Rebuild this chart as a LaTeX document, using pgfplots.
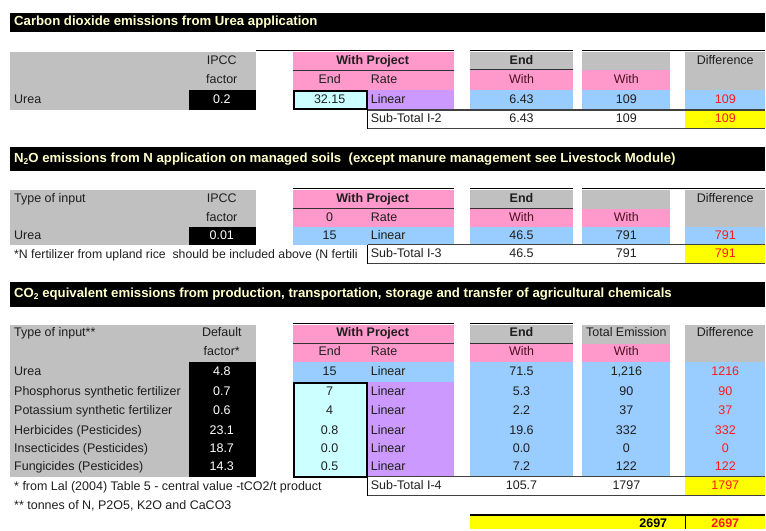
\documentclass[border=0pt]{standalone}
\usepackage{pgfplots}
\pgfplotsset{compat=1.18}
\usepackage{fontspec}
\setmainfont{Liberation Sans}
\definecolor{pinkc}{HTML}{FF99CC}
\definecolor{grayc}{HTML}{C0C0C0}
\definecolor{bluec}{HTML}{99CCFF}
\definecolor{purplec}{HTML}{CC99FF}
\definecolor{cyanc}{HTML}{CCFFFF}
\definecolor{yellowc}{HTML}{FFFF00}
\definecolor{titlec}{HTML}{FFFFCC}
\definecolor{txt}{HTML}{1E1E1E}
\definecolor{redt}{HTML}{FF1A1A}
\definecolor{witht}{HTML}{4A1020}
\newcommand\R[5]{\fill[#1] (axis cs:#2,#3) rectangle (axis cs:#4,#5);}
\newcommand\T[4][]{\node[cellt,#1] at (axis cs:#2,#3) {#4};}
\newcommand\HL[4][black]{\draw[#1,line width=1pt] (axis cs:#2,#4) -- (axis cs:#3,#4);}
\newcommand\sub[1]{\raisebox{-0.35ex}{\fontsize{8.5}{8.5}\selectfont #1}}
\begin{document}
\begin{tikzpicture}[
  cellt/.style={inner sep=0pt,text height=9pt,text depth=2.5pt,text=txt,font=\fontsize{12.5}{15}\selectfont},
  bcell/.style={font=\fontsize{12.5}{15}\selectfont\bfseries},
  ttl/.style={cellt,anchor=west,text=titlec,font=\fontsize{13.2}{15}\selectfont\bfseries},
]
\begin{axis}[
  scale only axis, width=766pt, height=530pt,
  xmin=0, xmax=766, ymin=0, ymax=530, y dir=reverse,
  axis lines=none, ticks=none, clip=false,
]
\path (axis cs:0,0) rectangle (axis cs:766,530);
% ================= Section 1 =================
\R{black}{10}{13}{766}{32}
\T[ttl]{14}{22.5}{Carbon dioxide emissions from Urea application}
\R{grayc}{10}{52}{256}{110}
\R{black}{189}{90}{256}{110}
\R{pinkc}{293}{52}{454}{90}
\R{cyanc}{293}{90}{368}{110}
\draw[black,line width=2pt] (axis cs:294,91) rectangle (axis cs:367,109);
\R{purplec}{368}{90}{454}{110}
\R{grayc}{470}{52}{574}{70}
\R{pinkc}{470}{70}{574}{90}
\R{bluec}{470}{90}{574}{110}
\R{grayc}{583}{52}{671}{70}
\R{pinkc}{583}{70}{671}{90}
\R{bluec}{583}{90}{671}{110}
\R{grayc}{686}{52}{766}{90}
\R{bluec}{686}{90}{766}{110}
\R{yellowc}{686}{110}{766}{129}
\HL[black]{256}{454}{51}
\HL[black]{470}{574}{51}
\HL[black]{583}{766}{51}
\HL[black!80]{293}{454}{71}
\HL[black!80]{470}{574}{70}
\draw[black!75,line width=1.3pt] (axis cs:368,110) -- (axis cs:766,110);
\draw[black!75,line width=1pt] (axis cs:368,129) -- (axis cs:766,129);
\draw[black,line width=1pt] (axis cs:368,110) -- (axis cs:368,129);
\T{222}{61}{IPCC}
\T{222}{80}{factor}
\T[anchor=west]{14}{100}{Urea}
\T[text=white]{222}{100}{0.2}
\T[bcell]{373}{61}{With Project}
\T{330}{80}{End}
\T[anchor=west]{371}{80}{Rate}
\T{330}{100}{32.15}
\T[anchor=west]{371}{100}{Linear}
\T[bcell]{522}{61}{End}
\T[text=witht]{522}{80}{With}
\T{522}{100}{6.43}
\T[text=witht]{627}{80}{With}
\T{627}{100}{109}
\T{726}{61}{Difference}
\T[text=redt]{726}{100}{109}
\T[anchor=west]{371}{119.5}{Sub-Total I-2}
\T{522}{119.5}{6.43}
\T{627}{119.5}{109}
\T[text=redt]{726}{119.5}{109}
% ================= Section 2 =================
\R{black}{10}{147}{766}{171}
\T[ttl]{14}{159}{N\sub{2}O emissions from N application on managed soils\ \ (except manure management see Livestock Module)}
\R{grayc}{10}{190}{256}{245}
\R{black}{189}{227}{256}{245}
\R{pinkc}{293}{190}{454}{227}
\R{bluec}{293}{227}{454}{245}
\R{grayc}{470}{190}{574}{209}
\R{pinkc}{470}{209}{574}{227}
\R{bluec}{470}{227}{574}{245}
\R{grayc}{583}{190}{671}{209}
\R{pinkc}{583}{209}{671}{227}
\R{bluec}{583}{227}{671}{245}
\R{grayc}{686}{190}{766}{227}
\R{bluec}{686}{227}{766}{245}
\R{yellowc}{686}{245}{766}{264}
\HL[black]{293}{454}{189}
\HL[black]{470}{574}{189}
\HL[black]{583}{766}{189}
\HL[black!80]{293}{454}{209}
\HL[black!80]{470}{574}{209}
\T[anchor=west]{14}{199}{Type of input}
\T{222}{199}{IPCC}
\T{222}{218}{factor}
\T[anchor=west]{14}{236}{Urea}
\T[text=white]{222}{236}{0.01}
\T[bcell]{373}{199}{With Project}
\T{330}{218}{0}
\T[anchor=west]{371}{218}{Rate}
\T{330}{236}{15}
\T[anchor=west]{371}{236}{Linear}
\T[bcell]{522}{199}{End}
\T[text=witht]{522}{218}{With}
\T{522}{236}{46.5}
\T[text=witht]{627}{218}{With}
\T{627}{236}{791}
\T{726}{199}{Difference}
\T[text=redt]{726}{236}{791}
\T[anchor=west,font=\fontsize{12.3}{15}\selectfont]{14}{255}{*N fertilizer from upland rice\ \ should be included above (N fertili}
\draw[black!75,line width=1.3pt] (axis cs:368,245) -- (axis cs:766,245);
\draw[black!75,line width=1pt] (axis cs:368,264) -- (axis cs:766,264);
\draw[black,line width=1pt] (axis cs:368,245) -- (axis cs:368,264);
\T[anchor=west]{371}{254.5}{Sub-Total I-3}
\T{522}{254.5}{46.5}
\T{627}{254.5}{791}
\T[text=redt]{726}{254.5}{791}
% ================= Section 3 =================
\R{black}{10}{282}{766}{307}
\T[ttl]{14}{294.5}{CO\sub{2} equivalent emissions from production, transportation, storage and transfer of agricultural chemicals}
\R{grayc}{10}{325}{256}{477}
\R{black}{189}{362.5}{256}{477}
\R{pinkc}{293}{325}{454}{362.5}
\R{bluec}{293}{362.5}{454}{382.5}
\R{cyanc}{293}{382.5}{368}{477}
\R{purplec}{368}{382.5}{454}{477}
\draw[black,line width=2pt] (axis cs:294,383.5) rectangle (axis cs:367,477);
\R{grayc}{470}{325}{574}{344}
\R{pinkc}{470}{344}{574}{362.5}
\R{bluec}{470}{362.5}{574}{477}
\R{grayc}{583}{325}{671}{344}
\R{pinkc}{583}{344}{671}{362.5}
\R{bluec}{583}{362.5}{671}{477}
\R{grayc}{686}{325}{766}{362.5}
\R{bluec}{686}{362.5}{766}{477}
\R{yellowc}{686}{477}{766}{496}
\HL[black]{293}{454}{324}
\HL[black]{470}{574}{324}
\HL[black!80]{293}{454}{344}
\HL[black!80]{470}{574}{344}
\T[anchor=west]{14}{334}{Type of input**}
\T{222}{334}{Default}
\T{222}{353}{factor*}
\T[bcell]{373}{334}{With Project}
\T{330}{353}{End}
\T[anchor=west]{371}{353}{Rate}
\T[bcell]{522}{334}{End}
\T[text=witht]{522}{353}{With}
\T{627}{334}{Total Emission}
\T[text=witht]{627}{353}{With}
\T{726}{334}{Difference}
% rows
\T[anchor=west]{14}{372.5}{Urea}
\T[anchor=west]{14}{392.5}{Phosphorus synthetic fertilizer}
\T[anchor=west]{14}{412}{Potassium synthetic fertilizer}
\T[anchor=west]{14}{431.5}{Herbicides (Pesticides)}
\T[anchor=west]{14}{450}{Insecticides (Pesticides)}
\T[anchor=west]{14}{468}{Fungicides (Pesticides)}
\T[text=white]{222}{372.5}{4.8}
\T[text=white]{222}{392.5}{0.7}
\T[text=white]{222}{412}{0.6}
\T[text=white]{222}{431.5}{23.1}
\T[text=white]{222}{450}{18.7}
\T[text=white]{222}{468}{14.3}
\T{330}{372.5}{15}
\T{330}{392.5}{7}
\T{330}{412}{4}
\T{330}{431.5}{0.8}
\T{330}{450}{0.0}
\T{330}{468}{0.5}
\T[anchor=west]{371}{372.5}{Linear}
\T[anchor=west]{371}{392.5}{Linear}
\T[anchor=west]{371}{412}{Linear}
\T[anchor=west]{371}{431.5}{Linear}
\T[anchor=west]{371}{450}{Linear}
\T[anchor=west]{371}{468}{Linear}
\T{522}{372.5}{71.5}
\T{522}{392.5}{5.3}
\T{522}{412}{2.2}
\T{522}{431.5}{19.6}
\T{522}{450}{0.0}
\T{522}{468}{7.2}
\T{627}{372.5}{1,216}
\T{627}{392.5}{90}
\T{627}{412}{37}
\T{627}{431.5}{332}
\T{627}{450}{0}
\T{627}{468}{122}
\T[text=redt]{726}{372.5}{1216}
\T[text=redt]{726}{392.5}{90}
\T[text=redt]{726}{412}{37}
\T[text=redt]{726}{431.5}{332}
\T[text=redt]{726}{450}{0}
\T[text=redt]{726}{468}{122}
\T[anchor=west]{14}{488}{* from Lal (2004) Table 5 - central value -tCO2/t product}
\T[anchor=west]{14}{507}{** tonnes of N, P2O5, K2O and CaCO3}
\draw[black!75,line width=1.3pt] (axis cs:368,477) -- (axis cs:766,477);
\draw[black!75,line width=1pt] (axis cs:368,496) -- (axis cs:766,496);
\draw[black,line width=1pt] (axis cs:368,477) -- (axis cs:368,496);
\T[anchor=west]{371}{486.5}{Sub-Total I-4}
\T{522}{486.5}{105.7}
\T{627}{486.5}{1797}
\T[text=redt]{726}{486.5}{1797}
% grand total
\R{yellowc}{470}{515}{766}{530}
\draw[black,line width=1.5pt] (axis cs:470,515.5) -- (axis cs:766,515.5);
\draw[black,line width=1.5pt] (axis cs:686,515) -- (axis cs:686,530);
\T[anchor=east,bcell,text=black]{668}{524.5}{2697}
\T[bcell,text=redt]{726}{524.5}{2697}
\end{axis}
\end{tikzpicture}
\end{document}
